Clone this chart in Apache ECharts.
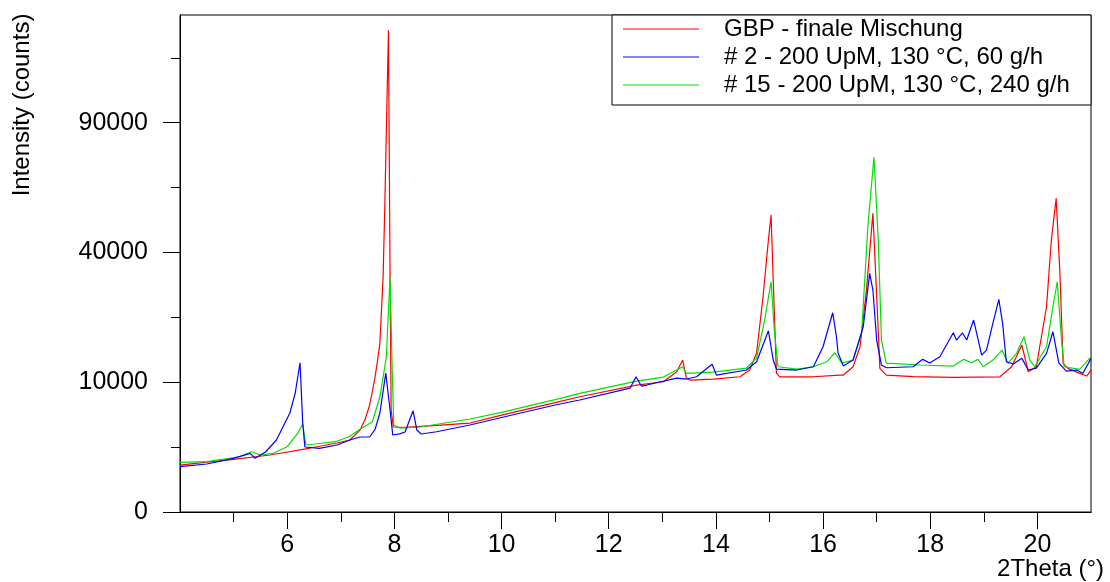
<!DOCTYPE html>
<html>
<head>
<meta charset="utf-8">
<script src="https://cdn.jsdelivr.net/npm/echarts@6/dist/echarts.min.js"></script>
<style>
  html, body { margin: 0; padding: 0; background: #fff; }
  #chart { width: 1110px; height: 582px; }
</style>
</head>
<body>
<div id="chart"></div>
<script>
// X-ray powder patterns: [2Theta (°), intensity (counts)]
const gbpFinal = [
  [4.00,1310],[4.50,1480],[5.00,1650],[5.68,1930],[6.43,2430],[6.93,2830],[7.17,3080],
  [7.36,3990],[7.45,5020],[7.54,6800],[7.64,10800],[7.68,13200],[7.73,16950],[7.79,32780],
  [7.82,54100],[7.89,137900],[7.92,32780],[7.94,6175],[7.98,4290],[8.20,4250],[8.80,4450],
  [9.41,4700],[10.00,5580],[11.00,7100],[11.46,7890],[12.52,9573],[13.02,10080],[13.27,11680],
  [13.38,13713],[13.45,10656],[13.51,10342],[13.95,10500],[14.45,10860],[14.63,11970],
  [14.76,15006],[14.88,27520],[14.98,43920],[15.03,52350],[15.07,31940],[15.13,11468],
  [15.19,10860],[15.82,10860],[16.31,11140],[16.38,11140],[16.56,12530],[16.69,16220],
  [16.81,29250],[16.93,52960],[17.01,25020],[17.06,12250],[17.18,11140],[17.68,10900],
  [18.43,10770],[19.30,10860],[19.52,12530],[19.71,16550],[19.83,11680],[19.98,12530],
  [20.17,25020],[20.26,43920],[20.35,58410],[20.42,33820],[20.48,13130],[20.57,12250],
  [20.79,11420],[20.92,10980],[21.00,11970]
];
const run2 = [
  [4.00,1218],[4.50,1367],[5.00,1711],[5.31,2045],[5.40,1711],[5.60,2157],[5.80,3077],
  [6.05,5818],[6.15,8405],[6.24,13230],[6.29,4701],[6.33,2508],[6.60,2407],[6.93,2664],
  [7.17,3077],[7.36,3339],[7.54,3339],[7.64,4060],[7.73,5818],[7.84,11468],[7.92,6175],
  [7.97,3519],[8.10,3627],[8.20,3798],[8.35,6087],[8.42,3991],[8.50,3615],[8.79,3827],
  [9.41,4492],[10.00,5300],[11.00,6800],[11.46,7446],[12.40,9125],[12.51,10860],[12.61,9423],
  [12.71,9573],[13.27,10656],[13.45,10500],[13.64,10860],[13.93,12950],[14.01,11140],
  [14.57,11970],[14.76,13400],[14.98,19510],[15.07,13713],[15.13,12136],[15.51,11970],
  [15.82,12530],[16.00,16220],[16.18,23580],[16.25,18240],[16.28,15006],[16.38,12650],
  [16.56,13713],[16.75,20380],[16.87,33820],[16.93,29250],[17.00,17560],[17.09,12830],
  [17.18,12360],[17.68,12530],[17.86,13840],[17.99,13177],[18.18,14310],[18.43,19080],
  [18.49,17560],[18.60,19080],[18.68,17560],[18.81,21880],[18.96,14630],[19.05,15575],
  [19.17,21200],[19.28,26860],[19.35,21200],[19.42,13400],[19.55,13000],[19.71,14020],
  [19.83,11970],[19.98,12307],[20.17,14950],[20.29,19290],[20.40,13177],[20.54,11800],
  [20.73,11970],[20.85,11420],[21.00,14020]
];
const run15 = [
  [4.00,1467],[4.50,1502],[5.10,1815],[5.34,2157],[5.50,1928],[5.74,2045],[6.00,2530],
  [6.20,3704],[6.29,4596],[6.35,2664],[6.52,2744],[6.90,2934],[7.15,3366],[7.34,3991],
  [7.59,4840],[7.73,7850],[7.85,14260],[7.92,32860],[7.96,11970],[7.99,4492],[8.10,4188],
  [8.48,4290],[9.41,5134],[10.00,5900],[11.00,7500],[11.46,8360],[12.52,10185],[13.02,10817],
  [13.38,12530],[13.45,11420],[13.95,11633],[14.57,12307],[14.76,14078],[14.91,21880],
  [15.03,31480],[15.09,19660],[15.16,12530],[15.51,12136],[15.82,12530],[16.07,13400],
  [16.22,15064],[16.35,13177],[16.56,13713],[16.72,19020],[16.84,49470],[16.95,74680],
  [17.03,43920],[17.09,17560],[17.18,13177],[17.81,12830],[18.43,12650],[18.63,13840],
  [18.77,13230],[18.89,13840],[18.99,12530],[19.17,13713],[19.34,15575],[19.45,13130],
  [19.61,14950],[19.75,18240],[19.86,13713],[19.95,12530],[20.17,16220],[20.29,25020],
  [20.37,31480],[20.45,17560],[20.50,12530],[20.79,12080],[21.00,14310]
];

const seriesNames = ['GBP - finale Mischung', '# 2 - 200 UpM, 130 °C, 60 g/h', '# 15 - 200 UpM, 130 °C, 240 g/h'];
const seriesColors = ['#ff0000', '#0000ff', '#00e000'];

const yTickCounts = [0, 10000, 40000, 90000];
const yMinorCounts = [2500, 22500, 62500, 122500];
const xTicks = [6, 8, 10, 12, 14, 16, 18, 20];
const xMinorTicks = [5, 7, 9, 11, 13, 15, 17, 19];
const xRange = [4, 21];
const yMaxCounts = 146700;

// intensity axis is square-root scaled
const sq = v => Math.sqrt(v);
const toSqrt = arr => arr.map(([t, c]) => [t, sq(c)]);

const FONT = 'Liberation Sans, Arial, sans-serif';
const chart = echarts.init(document.getElementById('chart'), null, { renderer: 'canvas' });

const yAxisBase = {
  type: 'value', min: 0, max: sq(yMaxCounts),
  splitLine: { show: false },
  axisLine: { show: true, lineStyle: { color: '#000', width: 1 } }
};
const xAxisBase = {
  type: 'value', min: xRange[0], max: xRange[1],
  splitLine: { show: false },
  axisLine: { show: true, lineStyle: { color: '#000', width: 1 } }
};

chart.setOption({
  animation: false,
  backgroundColor: '#fff',
  grid: { left: 180, right: 19, top: 15, bottom: 70, show: true, borderColor: '#000', borderWidth: 1, backgroundColor: 'transparent' },
  xAxis: [
    Object.assign({}, xAxisBase, {
      interval: 2,
      axisTick: { show: true, length: 17, customValues: xTicks, lineStyle: { color: '#000' } },
      axisLabel: { show: true, customValues: xTicks, margin: 21, fontSize: 25, color: '#000', fontFamily: FONT }
    }),
    Object.assign({}, xAxisBase, {
      position: 'bottom', interval: 1,
      axisTick: { show: true, length: 10, customValues: xMinorTicks, lineStyle: { color: '#000' } },
      axisLabel: { show: false }
    })
  ],
  yAxis: [
    Object.assign({}, yAxisBase, {
      axisTick: { show: true, length: 17, customValues: yTickCounts.map(sq), lineStyle: { color: '#000' } },
      axisLabel: {
        show: true, customValues: yTickCounts.map(sq), margin: 32, fontSize: 25, color: '#000', fontFamily: FONT,
        formatter: v => String(Math.round(v * v))
      }
    }),
    Object.assign({}, yAxisBase, {
      position: 'left',
      axisTick: { show: true, length: 9, customValues: yMinorCounts.map(sq), lineStyle: { color: '#000' } },
      axisLabel: { show: false }
    })
  ],
  legend: {
    orient: 'vertical', left: 623, top: 15, padding: 0, itemGap: 0,
    itemWidth: 76, itemHeight: 1, icon: 'rect', z: 20,
    data: seriesNames,
    textStyle: { fontSize: 24, lineHeight: 28, color: '#000', fontFamily: FONT, padding: [0, 0, 0, 20] }
  },
  graphic: [
    { type: 'rect', z: 10, shape: { x: 612, y: 15, width: 479, height: 90 },
      style: { fill: '#fff', stroke: '#000', lineWidth: 1 } },
    { type: 'text', z: 10, x: 22, y: 105, rotation: Math.PI / 2,
      style: { text: 'Intensity (counts)', fontSize: 24, fontFamily: FONT, fill: '#000', align: 'center', verticalAlign: 'middle' } },
    { type: 'text', z: 10, x: 1104, y: 569,
      style: { text: '2Theta (°)', fontSize: 24, fontFamily: FONT, fill: '#000', align: 'right', verticalAlign: 'middle' } }
  ],
  series: [
    { name: seriesNames[0], type: 'line', data: toSqrt(gbpFinal), color: seriesColors[0] },
    { name: seriesNames[2], type: 'line', data: toSqrt(run15), color: seriesColors[2] },
    { name: seriesNames[1], type: 'line', data: toSqrt(run2), color: seriesColors[1] }
  ].map(s => Object.assign(s, { showSymbol: false, symbol: 'none', lineStyle: { width: 1.2 }, clip: true }))
});
</script>
</body>
</html>
